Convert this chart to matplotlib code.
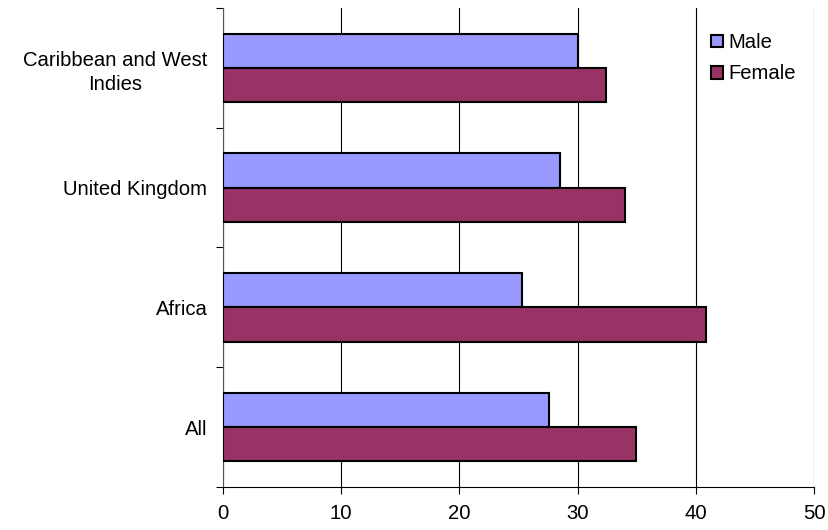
import numpy as np
import matplotlib
matplotlib.use("Agg")
import matplotlib.pyplot as plt

# -----------------------
# Dados
# -----------------------
categorias = ["All", "Africa", "United Kingdom", "Caribbean and West\nIndies"]
male = [27.6, 25.3, 28.5, 30.0]
female = [34.9, 40.8, 34.0, 32.4]
x_ticks = [0, 10, 20, 30, 40, 50]

plt.rcParams['font.family'] = ['Liberation Sans', 'DejaVu Sans']
fs = 14.6

fig = plt.figure(figsize=(8.29, 5.30), dpi=100)
ax = fig.add_axes([0.2686, 0.0811, 0.9825 - 0.2686, 0.985 - 0.0811])

y = np.arange(len(categorias))
h = 0.285
ax.barh(y + h / 2, male, height=h, color="#9999FF", edgecolor="black",
        linewidth=1.5, label="Male", zorder=3)
ax.barh(y - h / 2, female, height=h, color="#993366", edgecolor="black",
        linewidth=1.5, label="Female", zorder=3)

ax.set_xlim(0, 50)
ax.set_ylim(-0.5, len(categorias) - 0.5)
ax.set_xticks(x_ticks)
ax.set_xticklabels([str(t) for t in x_ticks], fontsize=fs)
ax.tick_params(axis='x', length=5, width=0.8, pad=7, direction='out')

# rótulos no centro, marcas nos limites das categorias
ax.set_yticks(y)
ax.set_yticklabels(categorias, fontsize=fs, multialignment='center',
                   linespacing=1.35)
ax.tick_params(axis='y', which='major', length=0, pad=11)
ax.set_yticks(np.arange(-0.5, len(categorias)), minor=True)
ax.tick_params(axis='y', which='minor', length=5, width=0.8, direction='out')

ax.grid(True, axis='x', color='black', linewidth=0.8, zorder=0)
for s in ['top', 'right']:
    ax.spines[s].set_visible(False)
ax.spines['left'].set_color('#555555')
ax.spines['bottom'].set_linewidth(0.8)

leg = ax.legend(loc='upper left', bbox_to_anchor=(0.815, 0.96), frameon=True,
                fontsize=fs, handlelength=0.6, handleheight=0.6,
                handletextpad=0.25, labelspacing=0.6, borderpad=0.3,
                borderaxespad=0)
leg.get_frame().set_edgecolor('none')
leg.get_frame().set_facecolor('white')
leg.get_frame().set_alpha(1)

plt.savefig("out.png", dpi=100)
plt.close()
